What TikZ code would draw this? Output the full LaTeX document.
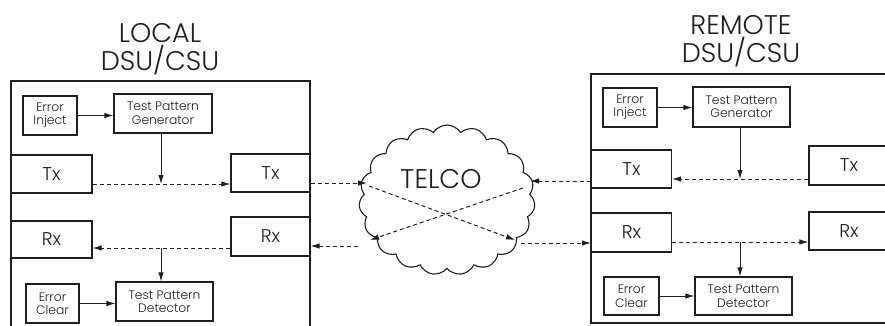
\documentclass[tikz,border=0pt]{standalone}
\usepackage{fontspec}
\setmainfont{Poppins}[UprightFont=* Light]
\usetikzlibrary{arrows.meta,shapes.symbols}
\definecolor{ink}{gray}{0.12}
\begin{document}
\begin{tikzpicture}[x=1pt,y=-1pt,
  box/.style={draw=ink, line width=1.1pt, inner sep=0pt, font=\fontsize{18.5}{20}\selectfont, text=ink},
  small/.style={draw=ink, line width=1.1pt, inner sep=0pt, align=center, font=\fontsize{12.3}{13.5}\selectfont, text=ink},
  frame/.style={draw=ink, line width=1.2pt, inner sep=0pt},
  dline/.style={draw=ink, line width=1pt, dash pattern=on 4pt off 3pt},
  sline/.style={draw=ink, line width=1pt},
  arr/.style={-{Latex[length=9pt,width=5.5pt]}},
  title/.style={align=center, font=\fontsize{27}{28}\selectfont, text=ink, inner sep=0pt}]
\clip (0,0) rectangle (885,326);
\fill[white] (0,0) rectangle (885,326);
% outer frames
\node[frame, minimum width=299, minimum height=270] (localbox) at (160.5,216) {};
\node[frame, minimum width=300, minimum height=249] (remotebox) at (741,198.5) {};
% titles
\node[title] (localtitle) at (160,49) {LOCAL\\DSU/CSU};
\node[title] (remotetitle) at (741,41) {REMOTE\\DSU/CSU};
% local units
\node[small, minimum width=54, minimum height=39] (eInjL) at (50,115.5) {Error\\Inject};
\node[small, minimum width=98, minimum height=39] (tpgL) at (163,113.5) {Test Pattern\\Generator};
\node[box, minimum width=81, minimum height=38] (txL1) at (51.5,174) {Tx};
\node[box, minimum width=79, minimum height=38] (txL2) at (270.5,173) {Tx};
\node[box, minimum width=81, minimum height=37] (rxL1) at (51.5,239.5) {Rx};
\node[box, minimum width=79, minimum height=39] (rxL2) at (270.5,236.5) {Rx};
\node[small, minimum width=53, minimum height=39] (ecL) at (52.5,303.5) {Error\\Clear};
\node[small, minimum width=97, minimum height=39] (tpdL) at (164.5,301.5) {Test Pattern\\Detector};
% remote units
\node[small, minimum width=54, minimum height=39] (eInjR) at (630,107.5) {Error\\Inject};
\node[small, minimum width=97, minimum height=40] (tpgR) at (741.5,107) {Test Pattern\\Generator};
\node[box, minimum width=80, minimum height=38] (txR1) at (631.5,169) {Tx};
\node[box, minimum width=80, minimum height=39] (txR2) at (849,165.5) {Tx};
\node[box, minimum width=80, minimum height=39] (rxR1) at (631.5,232.5) {Rx};
\node[box, minimum width=80, minimum height=38] (rxR2) at (849,231) {Rx};
\node[small, minimum width=55, minimum height=38] (ecR) at (631.5,296) {Error\\Clear};
\node[small, minimum width=97, minimum height=38] (tpdR) at (743.5,296) {Test Pattern\\Detector};
% cloud
\node[cloud, draw=ink, line width=1.1pt, cloud puffs=19, cloud puff arc=115, aspect=1.3,
      minimum width=176, minimum height=150, inner sep=0pt, fill=white] (telco) at (447,200) {};
\node[font=\fontsize{27}{28}\selectfont, text=ink, inner sep=0pt] (telcotext) at (441,179) {TELCO};
% junctions
\coordinate (ltj) at (161,184);
\coordinate (lrj) at (161,248);
\coordinate (rtj) at (740,179);
\coordinate (rrj) at (740,242);
% local connectors
\draw[sline,arr] (eInjL.east) -- (tpgL.west |- eInjL.east);
\draw[dline,arr] (txL1.east |- ltj) -- (txL2.west |- ltj);
\draw[sline,arr] (tpgL.south -| ltj) -- (ltj);
\draw[dline,arr] (rxL2.west |- lrj) -- (rxL1.east |- lrj);
\draw[sline,arr] (lrj) -- (tpdL.north -| lrj);
\draw[sline,arr] (ecL.east) -- (tpdL.west |- ecL.east);
% remote connectors
\draw[sline,arr] (eInjR.east) -- (tpgR.west |- eInjR.east);
\draw[dline,arr] (txR2.west |- rtj) -- (txR1.east |- rtj);
\draw[sline,arr] (tpgR.south -| rtj) -- (rtj);
\draw[dline,arr] (rxR1.east |- rrj) -- (rxR2.west |- rrj);
\draw[sline,arr] (rrj) -- (tpdR.north -| rrj);
\draw[sline,arr] (ecR.east) -- (tpdR.west |- ecR.east);
% through the cloud
\coordinate (c1) at (367,183);
\coordinate (c2) at (369,186);
\coordinate (c3) at (515,240);
\coordinate (c4) at (521,243);
\coordinate (c5) at (530,181);
\coordinate (c6) at (523,188);
\coordinate (c7) at (370,240);
\coordinate (c8) at (358,246);
\draw[dline,arr] (txL2.east |- c1) -- (c1);
\draw[dline,arr] (c2) -- (c3);
\draw[dline,arr] (c4) -- (rxR1.west |- c4);
\draw[dline,arr] (txR1.west |- c5) -- (c5);
\draw[dline,arr] (c6) -- (c7);
\draw[dline,arr] (c8) -- (rxL2.east |- c8);
\end{tikzpicture}
\end{document}
